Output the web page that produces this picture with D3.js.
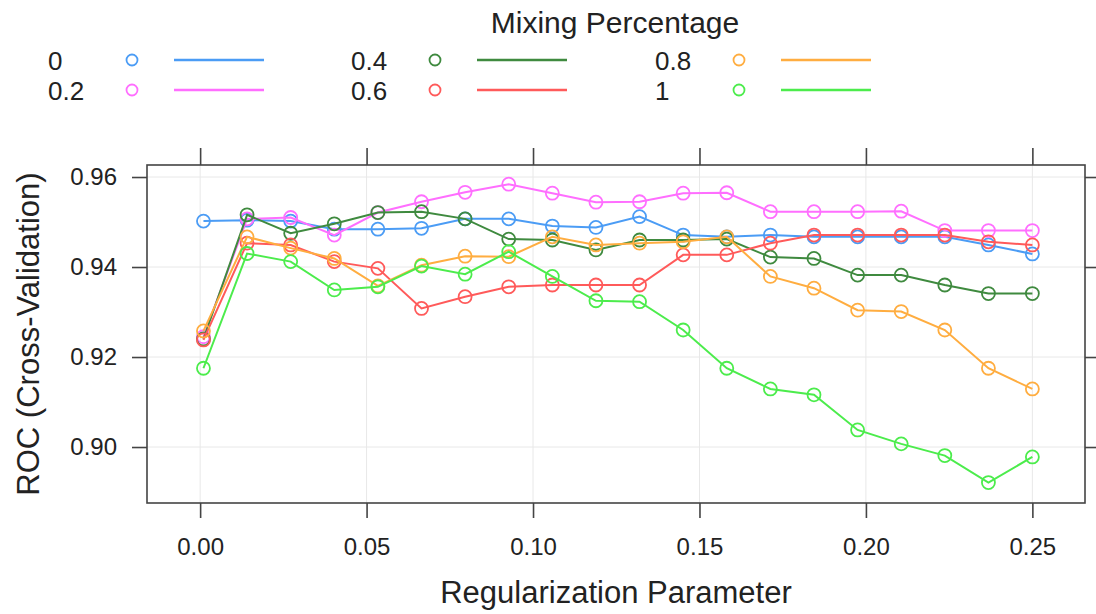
<!DOCTYPE html>
<html>
<head>
<meta charset="utf-8">
<script src="https://cdn.jsdelivr.net/npm/d3@7"></script>
<style>
  body { margin: 0; background: #fff; }
  text { font-family: "Liberation Sans", Arial, sans-serif; fill: #222; }
</style>
</head>
<body>
<div id="wrapper"></div>
<script>

// regularization parameter values (x)
const lambdas = [0.001, 0.0141, 0.0272, 0.0403, 0.0534, 0.0665, 0.0796, 0.0927, 0.1058, 0.1189,
                 0.1320, 0.1451, 0.1582, 0.1713, 0.1844, 0.1975, 0.2106, 0.2237, 0.2368, 0.2500]

const mixLabels = ["0", "0.2", "0.4", "0.6", "0.8", "1"]
const mixColors = ["#4b9cf5", "#ff6eff", "#3f8a3f", "#ff5a5a", "#ffad40", "#4cec4c"]

const roc0   = [0.9502, 0.9504, 0.9502, 0.9484, 0.9484, 0.9486, 0.9507, 0.9507, 0.9491, 0.9488,
                0.9512, 0.9471, 0.9467, 0.9471, 0.9467, 0.9467, 0.9467, 0.9467, 0.9449, 0.9429]
const roc02  = [0.9245, 0.9507, 0.9510, 0.9471, 0.9521, 0.9545, 0.9566, 0.9584, 0.9564, 0.9544,
                0.9545, 0.9564, 0.9565, 0.9523, 0.9523, 0.9523, 0.9524, 0.9481, 0.9481, 0.9481]
const roc04  = [0.9240, 0.9516, 0.9475, 0.9496, 0.9521, 0.9523, 0.9507, 0.9462, 0.9460, 0.9438,
                0.9460, 0.9460, 0.9462, 0.9422, 0.9419, 0.9382, 0.9382, 0.9360, 0.9341, 0.9341]
const roc06  = [0.9238, 0.9453, 0.9449, 0.9412, 0.9397, 0.9308, 0.9334, 0.9356, 0.9360, 0.9360,
                0.9360, 0.9427, 0.9427, 0.9453, 0.9471, 0.9471, 0.9471, 0.9471, 0.9456, 0.9449]
const roc08  = [0.9258, 0.9467, 0.9442, 0.9419, 0.9358, 0.9404, 0.9424, 0.9423, 0.9467, 0.9449,
                0.9453, 0.9456, 0.9467, 0.9379, 0.9353, 0.9304, 0.9301, 0.9260, 0.9175, 0.9129]
const roc1   = [0.9175, 0.9430, 0.9412, 0.9349, 0.9356, 0.9402, 0.9384, 0.9434, 0.9379, 0.9325,
                0.9323, 0.9260, 0.9175, 0.9129, 0.9116, 0.9038, 0.9007, 0.8981, 0.8921, 0.8978]

const allRoc = [roc0, roc02, roc04, roc06, roc08, roc1]

const xTicks = [0, 0.05, 0.10, 0.15, 0.20, 0.25]
const yTicks = [0.90, 0.92, 0.94, 0.96]

function drawChart() {

  let dimensions = {
    width: 1096,
    height: 614,
    margin: { top: 165, right: 11, bottom: 111, left: 147 },
  }
  dimensions.boundedWidth = dimensions.width - dimensions.margin.left - dimensions.margin.right
  dimensions.boundedHeight = dimensions.height - dimensions.margin.top - dimensions.margin.bottom

  const wrapper = d3.select("#wrapper")
    .append("svg")
      .attr("width", dimensions.width)
      .attr("height", dimensions.height)

  const bounds = wrapper.append("g")
      .attr("transform", `translate(${dimensions.margin.left},${dimensions.margin.top})`)

  // scales (0.00 at px 200, 0.25 at px 1030; 0.96 at 177, 0.90 at 447)
  const xScale = d3.scaleLinear()
    .domain([-0.01596, 0.26581])
    .range([0, dimensions.boundedWidth])
  const yScale = d3.scaleLinear()
    .domain([0.96267, 0.88756])
    .range([0, dimensions.boundedHeight])

  // grid
  bounds.append("g").selectAll("line.gx")
    .data(xTicks).join("line")
      .attr("x1", d => xScale(d)).attr("x2", d => xScale(d))
      .attr("y1", 0).attr("y2", dimensions.boundedHeight)
      .attr("stroke", "#e8e8e8").attr("stroke-width", 1)
  bounds.append("g").selectAll("line.gy")
    .data(yTicks).join("line")
      .attr("y1", d => yScale(d)).attr("y2", d => yScale(d))
      .attr("x1", 0).attr("x2", dimensions.boundedWidth)
      .attr("stroke", "#e8e8e8").attr("stroke-width", 1)

  // axes
  const fmt = d3.format(".2f")
  const styleAxis = g => {
    g.select(".domain").remove()
    g.selectAll(".tick line").attr("stroke", "#444").attr("stroke-width", 1.6)
    g.selectAll(".tick text")
      .style("font-family", '"Liberation Sans", Arial, sans-serif')
      .style("font-size", "24px").attr("fill", "#444")
  }
  bounds.append("g")
    .attr("transform", `translate(0,${dimensions.boundedHeight})`)
    .call(d3.axisBottom(xScale).tickValues(xTicks).tickFormat(fmt).tickSize(15).tickPadding(20))
    .call(styleAxis)
  bounds.append("g")
    .call(d3.axisTop(xScale).tickValues(xTicks).tickFormat("").tickSize(17))
    .call(styleAxis)
  bounds.append("g")
    .call(d3.axisLeft(yScale).tickValues(yTicks).tickFormat(fmt).tickSize(15).tickPadding(15))
    .call(styleAxis)
  bounds.append("g")
    .attr("transform", `translate(${dimensions.boundedWidth},0)`)
    .call(d3.axisRight(yScale).tickValues(yTicks).tickFormat("").tickSize(12))
    .call(styleAxis)

  // panel frame
  bounds.append("rect")
    .attr("width", dimensions.boundedWidth)
    .attr("height", dimensions.boundedHeight)
    .attr("fill", "none")
    .attr("stroke", "#444")
    .attr("stroke-width", 1.6)

  // series
  const lineGen = d3.line()
    .x((d, i) => xScale(lambdas[i]))
    .y(d => yScale(d))

  allRoc.forEach((vals, k) => {
    const g = bounds.append("g")
    g.append("path")
      .datum(vals)
      .attr("d", lineGen)
      .attr("fill", "none")
      .attr("stroke", mixColors[k])
      .attr("stroke-width", 2)
    g.selectAll("circle")
      .data(vals).join("circle")
        .attr("cx", (d, i) => xScale(lambdas[i]))
        .attr("cy", d => yScale(d))
        .attr("r", 6.5)
        .attr("fill", "none")
        .attr("stroke", mixColors[k])
        .attr("stroke-width", 1.8)
  })

  // axis titles
  wrapper.append("text")
    .attr("x", 616).attr("y", 603)
    .attr("text-anchor", "middle")
    .style("font-size", "31px")
    .text("Regularization Parameter")
  wrapper.append("text")
    .attr("transform", "translate(39,334) rotate(-90)")
    .attr("text-anchor", "middle")
    .style("font-size", "31px")
    .text("ROC (Cross-Validation)")

  // legend
  wrapper.append("text")
    .attr("x", 615).attr("y", 33)
    .attr("text-anchor", "middle")
    .style("font-size", "30px")
    .text("Mixing Percentage")

  const legCols = [48, 351, 655]
  const legRows = [60, 90]
  mixLabels.forEach((lab, k) => {
    const col = Math.floor(k / 2), row = k % 2
    const x0 = legCols[col], y0 = legRows[row]
    wrapper.append("text")
      .attr("x", x0).attr("y", y0 + 10)
      .style("font-size", "26px")
      .text(lab)
    wrapper.append("circle")
      .attr("cx", x0 + 84).attr("cy", y0)
      .attr("r", 5.5)
      .attr("fill", "none")
      .attr("stroke", mixColors[k])
      .attr("stroke-width", 1.8)
    wrapper.append("line")
      .attr("x1", x0 + 126).attr("x2", x0 + 216)
      .attr("y1", y0).attr("y2", y0)
      .attr("stroke", mixColors[k])
      .attr("stroke-width", 2.5)
  })
}

drawChart()
</script>
</body>
</html>
